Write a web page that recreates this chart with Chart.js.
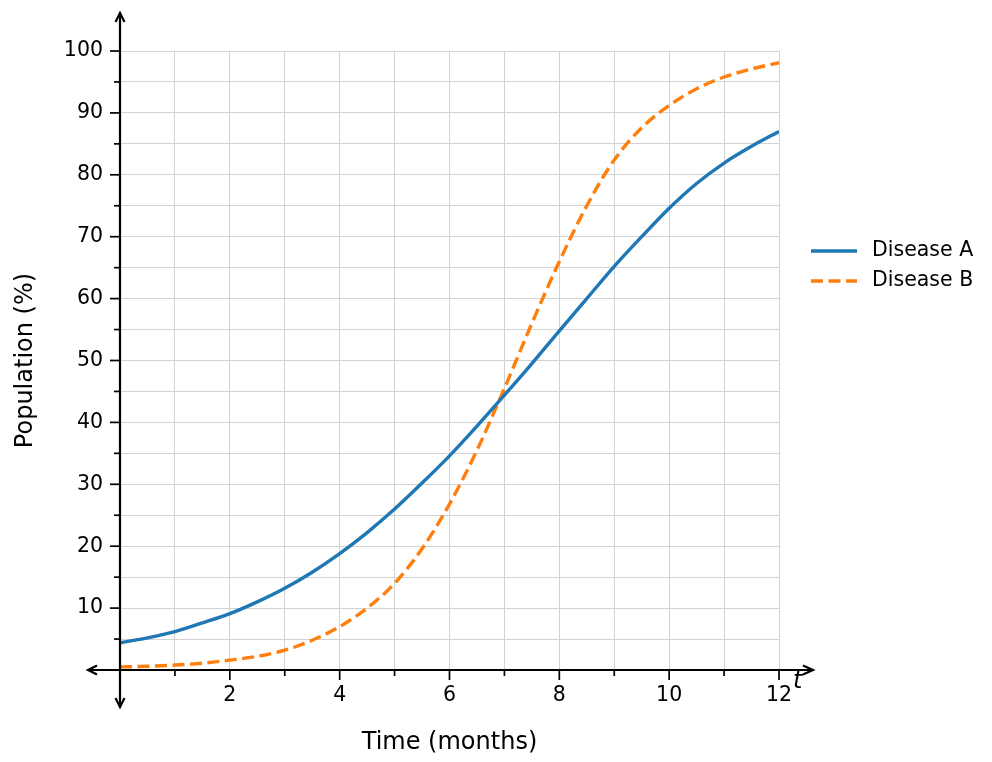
<!DOCTYPE html>
<html lang="en">
<head>
    <meta charset="UTF-8">
    <title>Disease spread over time</title>
    <script src="https://cdn.jsdelivr.net/npm/chart.js"></script>
    <style>
        body {
            margin: 0;
            padding: 0;
            background-color: #fff;
        }

        .chart-box {
            position: relative;
            width: 992px;
            height: 762px;
        }
    </style>
</head>
<body>
    <div class="chart-box">
        <canvas id="spreadChart"></canvas>
    </div>

    <script>
        // values
        const months = [0, 0.5, 1, 1.5, 2, 2.5, 3, 3.5, 4, 4.5, 5, 5.5, 6, 6.5, 7, 7.5, 8, 8.5, 9, 9.5, 10, 10.5, 11, 11.5, 12];
        const diseaseA = [4.4, 5.2, 6.2, 7.6, 9.1, 11.0, 13.2, 15.8, 18.8, 22.2, 26.0, 30.2, 34.6, 39.4, 44.4, 49.5, 54.8, 60.0, 65.2, 70.0, 74.6, 78.6, 81.9, 84.6, 87.0];
        const diseaseB = [0.5, 0.6, 0.8, 1.1, 1.6, 2.2, 3.2, 4.8, 7.0, 10.0, 14.0, 19.6, 26.8, 35.5, 45.5, 56.0, 66.0, 75.0, 82.4, 87.6, 91.2, 93.9, 95.8, 97.1, 98.1];
        const seriesNames = ['Disease A', 'Disease B'];
        const seriesColors = ['#1f77b4', '#ff7f0e'];
        const xLabelTicks = [2, 4, 6, 8, 10, 12];
        const yLabelTicks = [10, 20, 30, 40, 50, 60, 70, 80, 90, 100];

        const FONT = "'DejaVu Sans', sans-serif";
        Chart.defaults.font.family = FONT;
        Chart.defaults.color = '#000';

        function toPoints(values) {
            return months.map((m, i) => ({ x: m, y: values[i] }));
        }

        function arrowHead(ctx, x, y, dx, dy, back, half) {
            // open chevron pointing in direction (dx, dy)
            const px = -dy, py = dx;
            ctx.beginPath();
            ctx.moveTo(x - dx * back + px * half, y - dy * back + py * half);
            ctx.lineTo(x, y);
            ctx.lineTo(x - dx * back - px * half, y - dy * back - py * half);
            ctx.stroke();
        }

        // axes through the origin with arrows, tick marks, "t" label and legend
        const axesPlugin = {
            id: 'axesPlugin',
            afterDatasetsDraw(chart) {
                const ctx = chart.ctx;
                const xs = chart.scales.x;
                const ys = chart.scales.y;
                const x0 = xs.getPixelForValue(0);
                const y0 = ys.getPixelForValue(0);
                const xEnd = xs.getPixelForValue(12);
                const yTop = ys.getPixelForValue(100);

                ctx.save();
                ctx.strokeStyle = '#000';
                ctx.lineWidth = 2.2;
                ctx.lineCap = 'butt';

                // x axis
                ctx.beginPath();
                ctx.moveTo(x0 - 32, y0);
                ctx.lineTo(xEnd + 34, y0);
                ctx.stroke();
                arrowHead(ctx, xEnd + 34, y0, 1, 0, 10, 4.5);
                arrowHead(ctx, x0 - 32, y0, -1, 0, 9, 4.5);

                // y axis
                ctx.beginPath();
                ctx.moveTo(x0, yTop - 38);
                ctx.lineTo(x0, y0 + 37);
                ctx.stroke();
                arrowHead(ctx, x0, yTop - 38, 0, -1, 9, 4.5);
                arrowHead(ctx, x0, y0 + 37, 0, 1, 9, 4.5);

                // tick marks
                ctx.lineWidth = 1.7;
                xs.ticks.forEach(t => {
                    if (t.value === 0) return;
                    const px = xs.getPixelForValue(t.value);
                    const len = xLabelTicks.includes(t.value) ? 10 : 6;
                    ctx.beginPath();
                    ctx.moveTo(px, y0);
                    ctx.lineTo(px, y0 + len);
                    ctx.stroke();
                });
                ys.ticks.forEach(t => {
                    if (t.value === 0) return;
                    const py = ys.getPixelForValue(t.value);
                    const len = yLabelTicks.includes(t.value) ? 10 : 6;
                    ctx.beginPath();
                    ctx.moveTo(x0, py);
                    ctx.lineTo(x0 - len, py);
                    ctx.stroke();
                });

                // variable name next to the x arrow
                ctx.fillStyle = '#000';
                ctx.font = 'italic 24px ' + FONT;
                ctx.textAlign = 'left';
                ctx.textBaseline = 'alphabetic';
                ctx.fillText('t', xEnd + 14, y0 + 18);

                // legend
                ctx.font = '20.5px ' + FONT;
                ctx.textBaseline = 'middle';
                chart.data.datasets.forEach((ds, i) => {
                    const ly = 251 + i * 30;
                    ctx.strokeStyle = ds.borderColor;
                    ctx.lineWidth = 3.4;
                    ctx.setLineDash(ds.borderDash || []);
                    ctx.beginPath();
                    ctx.moveTo(811, ly);
                    ctx.lineTo(857, ly);
                    ctx.stroke();
                    ctx.setLineDash([]);
                    ctx.fillText(ds.label, 872, ly);
                });
                ctx.restore();
            }
        };

        const ctx = document.getElementById('spreadChart').getContext('2d');
        const spreadChart = new Chart(ctx, {
            type: 'line',
            data: {
                datasets: [
                    {
                        label: seriesNames[0],
                        data: toPoints(diseaseA),
                        borderColor: seriesColors[0],
                        backgroundColor: seriesColors[0],
                        borderWidth: 3.4,
                        pointRadius: 0,
                        fill: false,
                        cubicInterpolationMode: 'monotone'
                    },
                    {
                        label: seriesNames[1],
                        data: toPoints(diseaseB),
                        borderColor: seriesColors[1],
                        backgroundColor: seriesColors[1],
                        borderWidth: 3.4,
                        borderDash: [12, 5.5],
                        pointRadius: 0,
                        fill: false,
                        cubicInterpolationMode: 'monotone'
                    }
                ]
            },
            options: {
                responsive: true,
                maintainAspectRatio: false,
                animation: false,
                layout: {
                    padding: { top: 51, right: 213, left: 0, bottom: 0 }
                },
                plugins: {
                    legend: { display: false },
                    tooltip: { enabled: false }
                },
                scales: {
                    x: {
                        type: 'linear',
                        min: 0,
                        max: 12,
                        border: { display: false },
                        grid: {
                            color: '#d2d2d2',
                            lineWidth: 1,
                            tickLength: 10,
                            tickColor: 'rgba(0,0,0,0)'
                        },
                        ticks: {
                            stepSize: 1,
                            padding: 3,
                            maxRotation: 0,
                            autoSkip: false,
                            font: { size: 20.5 },
                            callback: v => xLabelTicks.includes(v) ? String(v) : ''
                        },
                        title: {
                            display: true,
                            text: 'Time (months)',
                            font: { size: 24 },
                            padding: { top: 0, bottom: 5 }
                        },
                        afterFit: s => { s.height = 92; }
                    },
                    y: {
                        min: 0,
                        max: 100,
                        border: { display: false },
                        grid: {
                            color: '#d2d2d2',
                            lineWidth: 1,
                            tickLength: 10,
                            tickColor: 'rgba(0,0,0,0)'
                        },
                        ticks: {
                            stepSize: 5,
                            padding: 7,
                            autoSkip: false,
                            font: { size: 20.5 },
                            callback: v => yLabelTicks.includes(v) ? String(v) : ''
                        },
                        title: {
                            display: true,
                            text: 'Population (%)',
                            font: { size: 24 },
                            padding: { top: 11, bottom: 0 }
                        },
                        afterFit: s => { s.width = 120; }
                    }
                }
            },
            plugins: [axesPlugin]
        });
    </script>
</body>
</html>
